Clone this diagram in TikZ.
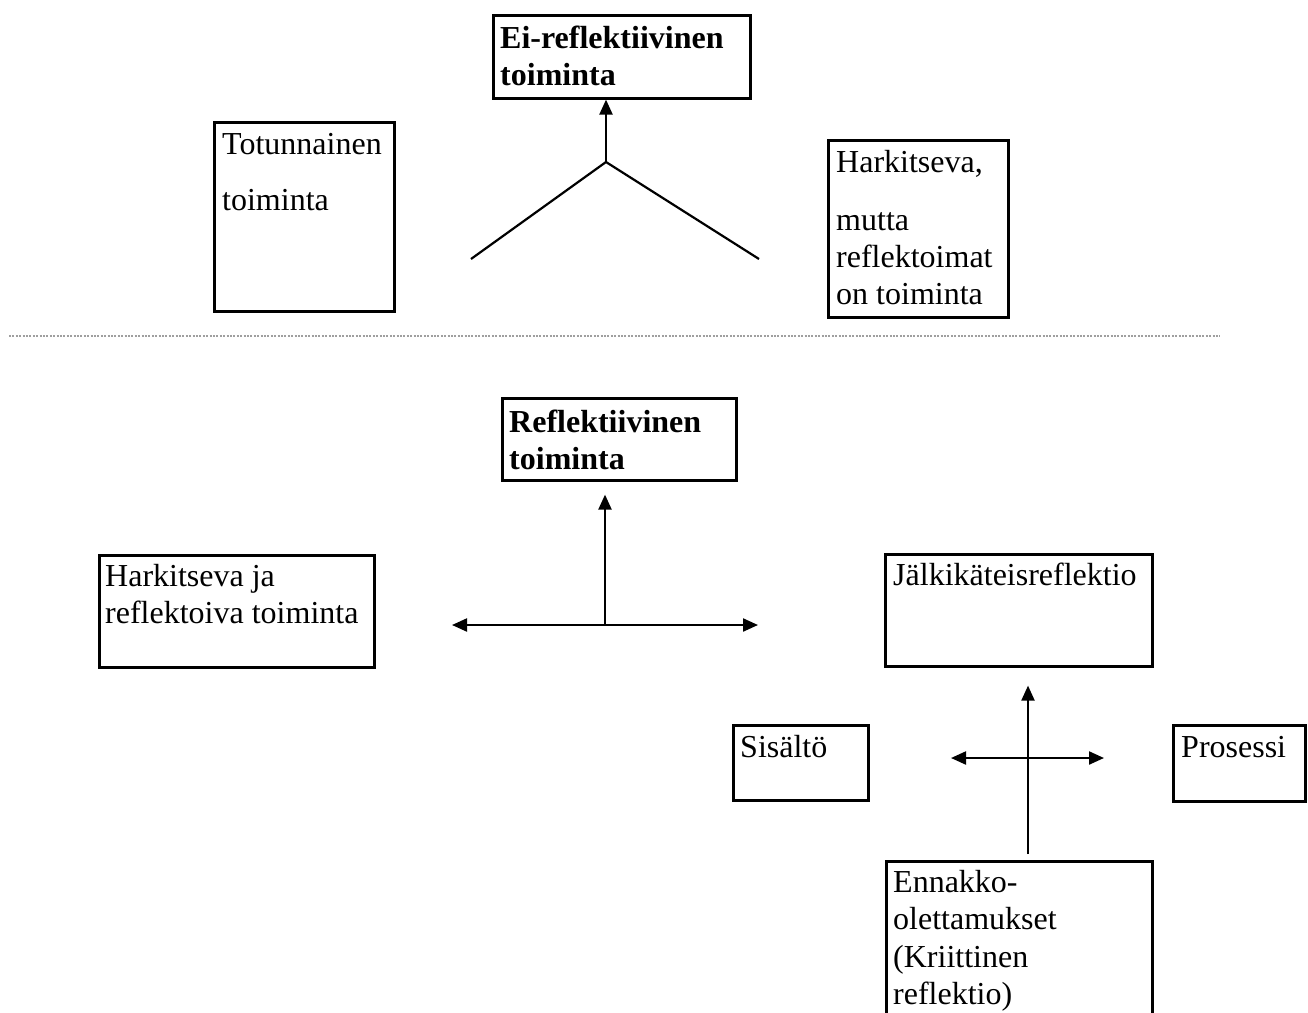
\documentclass[tikz,border=0pt]{standalone}
\usepackage{fontspec}
\setmainfont{Liberation Serif}
\usetikzlibrary{arrows.meta}
\begin{document}
\begin{tikzpicture}[x=1pt,y=-1pt,
  box/.style={draw, line width=2.6pt, inner sep=0pt, anchor=north west},
  txt/.style={anchor=base west, inner sep=0pt, font=\fontsize{32}{37}\selectfont},
  conn/.style={line width=2.2pt},
  arr/.style={conn, -{Triangle[length=15pt,width=13pt]}},
  darr/.style={conn, {Triangle[length=15pt,width=13pt]}-{Triangle[length=15pt,width=13pt]}},
  sep/.style={line width=1.6pt, gray!75, dash pattern=on 2pt off 1.4pt}]
\useasboundingbox (0,0) rectangle (1308,1012);
\clip (0,0) rectangle (1308,1012);

% ---------- upper part ----------
\node[box, minimum width=257pt, minimum height=83pt] (ei) at (492,14) {};
\node[txt] (eit) at (500,48) {\parbox[t]{300pt}{\bfseries Ei-reflektiivinen\\toiminta}};

\node[box, minimum width=180pt, minimum height=189pt] (tot) at (213,121) {};
\node[txt] (tott) at (222,154) {\parbox[t]{200pt}{\fontsize{32}{56}\selectfont Totunnainen\\toiminta}};

\node[box, minimum width=180pt, minimum height=177pt] (hark) at (827,139) {};
\node[txt] (harkt) at (836,172) {\parbox[t]{200pt}{Harkitseva,\\[21pt]mutta\\reflektoimat\\on toiminta}};

\coordinate (apex) at (606,162);
\coordinate (ll) at (471,259);
\coordinate (lr) at (759,259);
\draw[conn] (ll) -- (apex) -- (lr);
\draw[arr] (apex) -- (ei.south -| apex);

% separator
\draw[sep] (9,336) -- (1220,336);

% ---------- lower part ----------
\node[box, minimum width=234pt, minimum height=82pt] (refl) at (501,397) {};
\node[txt] (reflt) at (509,432) {\parbox[t]{300pt}{\bfseries Reflektiivinen\\toiminta}};

\node[box, minimum width=275pt, minimum height=112pt] (hj) at (98,554) {};
\node[txt] (hjt) at (105,586) {\parbox[t]{300pt}{Harkitseva ja\\reflektoiva toiminta}};

\node[box, minimum width=267pt, minimum height=112pt] (jal) at (884,553) {};
\node[txt] (jalt) at (893,585) {J\"alkik\"ateisreflektio};

\coordinate (cross) at (605,625);
\coordinate (hl) at (452,625);
\coordinate (hr) at (758,625);
\draw[darr] (hl) -- (hr);
\draw[arr, shorten >=13pt] (cross) -- (refl.south -| cross);

\node[box, minimum width=135pt, minimum height=75pt] (sis) at (732,724) {};
\node[txt] (sist) at (740,757) {Sis\"alt\"o};

\node[box, minimum width=132pt, minimum height=76pt] (pro) at (1172,724) {};
\node[txt] (prot) at (1181,757) {Prosessi};

\node[box, minimum width=266pt, minimum height=220pt] (enn) at (885,860) {};
\node[txt] (ennt) at (893,892) {\parbox[t]{250pt}{\fontsize{32}{37.5}\selectfont Ennakko-\\olettamukset\\(Kriittinen\\reflektio)}};

\coordinate (c2l) at (951,758);
\coordinate (c2r) at (1104,758);
\draw[darr] (c2l) -- (c2r);
\draw[arr] ([xshift=143pt,yshift=6pt]enn.north west) -- ([xshift=144pt,yshift=-18pt]jal.south west);
\end{tikzpicture}
\end{document}
